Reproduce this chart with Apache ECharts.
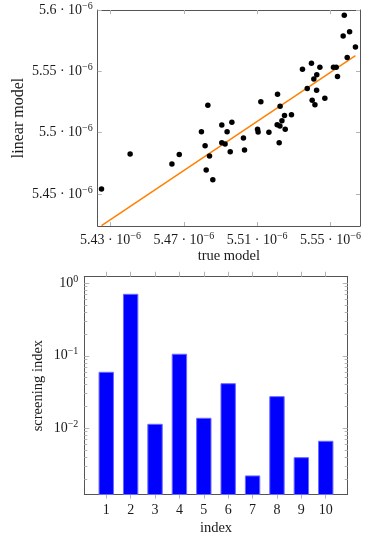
<!DOCTYPE html>
<html><head><meta charset="utf-8">
<script src="https://cdn.jsdelivr.net/npm/echarts@6/dist/echarts.min.js"></script>
<style>html,body{margin:0;padding:0;background:#fff}#c{width:374px;height:542px}</style>
</head><body><div id="c"></div>
<script>
// values of the scatter plot, in units of 1e-6
const trueModel = [5.4251,5.4407,5.4635,5.4675,5.4796,5.4816,5.4831,5.4822,5.4840,5.4858,
  5.4907,5.4907,5.4925,5.4936,5.4953,5.4962,5.5025,5.5031,5.5102,5.5105,
  5.5120,5.5164,5.5211,5.5209,5.5224,5.5225,5.5220,5.5235,5.5249,5.5253,
  5.5287,5.5347,5.5373,5.5396,5.5400,5.5409,5.5415,5.5424,5.5425,5.5442,
  5.5469,5.5516,5.5531,5.5538,5.5569,5.5575,5.5591,5.5604,5.5636];
const linearModel = [5.4541,5.4826,5.4744,5.4823,5.5008,5.4894,5.5223,5.4696,5.4810,5.4617,
  5.5063,5.4918,5.4908,5.5008,5.4845,5.5084,5.4957,5.4859,5.5027,5.5005,
  5.5253,5.5003,5.5313,5.5065,5.5054,5.5215,5.4918,5.5098,5.5139,5.5027,
  5.5147,5.5516,5.5361,5.5565,5.5264,5.5438,5.5228,5.5345,5.5473,5.5533,
  5.5280,5.5533,5.5533,5.5457,5.5789,5.5958,5.5612,5.5822,5.5699];
const refLineX = [5.4251, 5.5636];
const refLineY = [5.4242, 5.5628];
const scatterXTicks = [5.43, 5.47, 5.51, 5.55];
const scatterYTicks = [5.45, 5.5, 5.55, 5.6];

// bar chart
const barIndex = [1,2,3,4,5,6,7,8,9,10];
const screeningIndex = [0.0592,0.705,0.01135,0.105,0.01374,0.0412,0.0022,0.0273,0.00393,0.00662];
const barXTicks = [1,2,3,4,5,6,7,8,9,10];
const barYTicks = [0.01, 0.1, 1];
const barYMinorTicks = [0.002,0.003,0.004,0.005,0.006,0.007,0.008,0.009,
  0.02,0.03,0.04,0.05,0.06,0.07,0.08,0.09,0.2,0.3,0.4,0.5,0.6,0.7,0.8,0.9];

const F = "'Liberation Serif','DejaVu Serif',serif";
const TXT = '#1a1a1a';
const rich = {
  b: {fontFamily: F, fontSize: 14, color: TXT},
  e: {fontFamily: F, fontSize: 10, color: TXT, padding: [0, 0, 8, 0]}
};
const sciFmt = v => '{b|' + String(+(+v).toFixed(2)) + ' · 10}{e|−6}';
const powFmt = v => '{b|10}{e|' + String(Math.round(Math.log10(v))).replace('-', '−') + '}';

const boxLine = {show: true, onZero: false, lineStyle: {color: '#555', width: 1}};
const tickGray = '#b3b3b3';
const nameStyle = {fontFamily: F, fontSize: 14.5, color: TXT};

const chart = echarts.init(document.getElementById('c'));
chart.setOption({
  animation: false,
  backgroundColor: '#fff',
  grid: [
    {left: 97.7, top: 10, width: 262.3, height: 216, outerBoundsMode: 'none'},
    {left: 84.3, top: 276.7, width: 263.4, height: 217.8, outerBoundsMode: 'none'}
  ],
  xAxis: [
    {gridIndex: 0, type: 'value', position: 'bottom', min: 5.42302, max: 5.56608,
     axisLine: boxLine, splitLine: {show: false},
     axisTick: {inside: true, length: 4, lineStyle: {color: tickGray}, customValues: scatterXTicks},
     axisLabel: {customValues: scatterXTicks, formatter: sciFmt, rich: rich, margin: 5},
     name: 'true model', nameLocation: 'middle', nameGap: 23, nameMoveOverlap: false, nameTextStyle: nameStyle},
    {gridIndex: 0, type: 'value', position: 'top', min: 5.42302, max: 5.56608,
     axisLine: boxLine, splitLine: {show: false},
     axisTick: {inside: true, length: 4, lineStyle: {color: tickGray}, customValues: scatterXTicks},
     axisLabel: {show: false}},
    {gridIndex: 1, type: 'value', position: 'bottom', min: 0.1, max: 10.9,
     axisLine: boxLine, splitLine: {show: false},
     axisTick: {inside: false, length: 4, lineStyle: {color: tickGray}, customValues: barXTicks},
     axisLabel: {customValues: barXTicks, formatter: v => '{b|' + v + '}', rich: rich, margin: 9},
     name: 'index', nameLocation: 'middle', nameGap: 26, nameMoveOverlap: false, nameTextStyle: nameStyle},
    {gridIndex: 1, type: 'value', position: 'top', min: 0.1, max: 10.9,
     axisLine: boxLine, splitLine: {show: false},
     axisTick: {inside: false, length: 5, lineStyle: {color: tickGray}, customValues: barXTicks},
     axisLabel: {show: false}}
  ],
  yAxis: [
    {gridIndex: 0, type: 'value', position: 'left', min: 5.42391, max: 5.6,
     axisLine: boxLine, splitLine: {show: false},
     axisTick: {inside: true, length: 4, lineStyle: {color: tickGray}, customValues: scatterYTicks},
     axisLabel: {customValues: scatterYTicks, formatter: sciFmt, rich: rich, margin: 5},
     name: 'linear model', nameLocation: 'middle', nameGap: 71, nameMoveOverlap: false,
     nameTextStyle: {fontFamily: F, fontSize: 16, color: TXT}},
    {gridIndex: 0, type: 'value', position: 'right', min: 5.42391, max: 5.6,
     axisLine: boxLine, splitLine: {show: false},
     axisTick: {inside: true, length: 4, lineStyle: {color: tickGray}, customValues: scatterYTicks},
     axisLabel: {show: false}},
    {gridIndex: 1, type: 'log', logBase: 10, position: 'left', min: 0.00122, max: 1.233,
     axisLine: boxLine, splitLine: {show: false},
     axisTick: {inside: true, length: 5, lineStyle: {color: tickGray}, customValues: barYTicks},
     axisLabel: {customValues: barYTicks, formatter: powFmt, rich: rich, margin: 6},
     name: 'screening index', nameLocation: 'middle', nameGap: 39, nameMoveOverlap: false, nameTextStyle: nameStyle},
    {gridIndex: 1, type: 'log', logBase: 10, position: 'right', min: 0.00122, max: 1.233,
     axisLine: boxLine, splitLine: {show: false},
     axisTick: {inside: true, length: 5, lineStyle: {color: tickGray}, customValues: barYTicks},
     axisLabel: {show: false}},
    {gridIndex: 1, type: 'log', logBase: 10, position: 'left', min: 0.00122, max: 1.233,
     axisLine: {show: false}, splitLine: {show: false},
     axisTick: {inside: true, length: 3, lineStyle: {color: tickGray}, customValues: barYMinorTicks},
     axisLabel: {show: false}},
    {gridIndex: 1, type: 'log', logBase: 10, position: 'right', min: 0.00122, max: 1.233,
     axisLine: {show: false}, splitLine: {show: false},
     axisTick: {inside: true, length: 3, lineStyle: {color: tickGray}, customValues: barYMinorTicks},
     axisLabel: {show: false}}
  ],
  series: [
    {type: 'line', xAxisIndex: 0, yAxisIndex: 0, symbol: 'none', z: 2,
     lineStyle: {color: '#ff8000', width: 1.5},
     data: refLineX.map((x, i) => [x, refLineY[i]])},
    {type: 'scatter', xAxisIndex: 0, yAxisIndex: 0, symbol: 'circle', symbolSize: 5.5, z: 3,
     itemStyle: {color: '#000', opacity: 1},
     data: trueModel.map((x, i) => [x, linearModel[i]])},
    {type: 'custom', xAxisIndex: 2, yAxisIndex: 2,
     data: barIndex.map((x, i) => [x, screeningIndex[i]]),
     renderItem: function (params, api) {
       const x = api.value(0), y = api.value(1);
       const top = api.coord([x, y]);
       const w = api.size([0.59, 0], [x, y])[0];
       const bottom = params.coordSys.y + params.coordSys.height;
       return {type: 'rect',
         shape: {x: top[0] - w / 2, y: top[1], width: w, height: bottom - top[1]},
         style: {fill: '#0000ff', stroke: '#6a6aff', lineWidth: 1}};
     }}
  ]
});
</script></body></html>
